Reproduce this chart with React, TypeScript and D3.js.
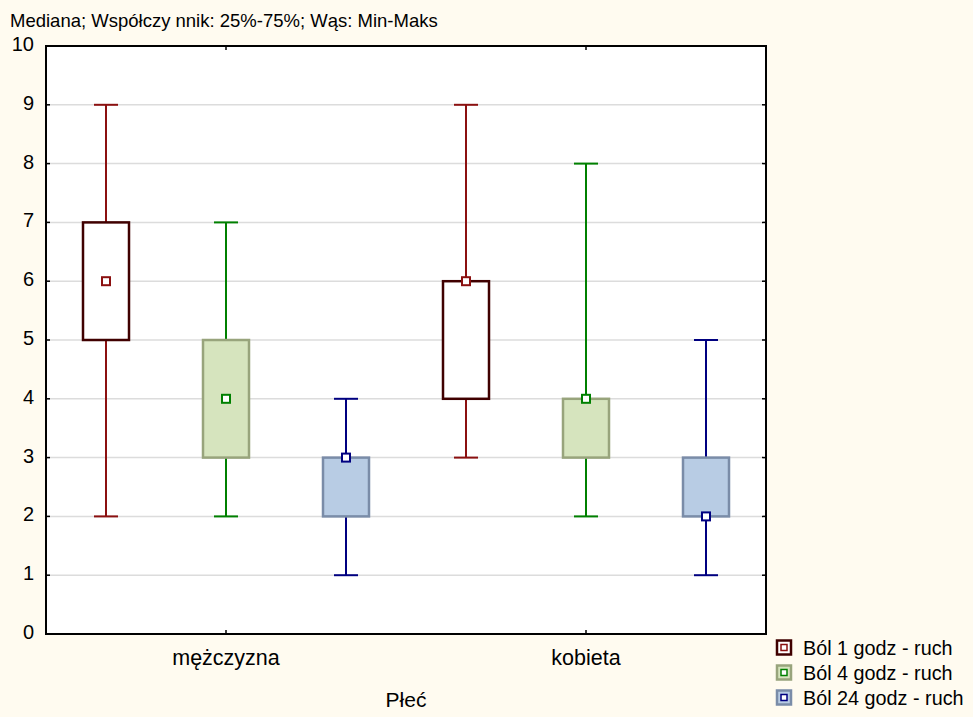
import React from 'react';
import * as d3 from 'd3';

const categories = ['mężczyzna', 'kobieta'];
const seriesNames = ['Ból 1 godz - ruch', 'Ból 4 godz - ruch', 'Ból 24 godz - ruch'];
// [min, q1, median, q3, max] per category
const bol1 = [[2, 5, 6, 7, 9], [3, 4, 6, 6, 9]];
const bol4 = [[2, 3, 4, 5, 7], [2, 3, 4, 4, 8]];
const bol24 = [[1, 2, 3, 3, 4], [1, 2, 2, 3, 5]];
const yTicks = [0, 1, 2, 3, 4, 5, 6, 7, 8, 9, 10];

const series = [bol1, bol4, bol24];
const styles = [
  { fill: '#ffffff', stroke: '#400000', whisker: '#8b1010' },
  { fill: '#d6e4be', stroke: '#98a47c', whisker: '#008000' },
  { fill: '#b8cce4', stroke: '#7a8ca8', whisker: '#000080' },
];

const W = 973, H = 717;
const left = 46, right = 766, top = 46, bottom = 634;
const font = 'Liberation Sans, Arial, sans-serif';

export default function App() {
  const x = d3.scaleBand().domain(categories).range([left, right]);
  const xs = d3.scaleBand().domain(seriesNames).range([0, x.bandwidth()]);
  const y = d3.scaleLinear().domain([0, 10]).range([bottom, top]);
  const boxW = 46, capW = 24, mk = 8;

  return (
    <svg width={W} height={H} style={{ display: 'block', position: 'absolute', left: 0, top: 0 }}>
      <rect width={W} height={H} fill="#fffbf0" />
      <rect x={left} y={top} width={right - left} height={bottom - top} fill="#ffffff" />
      {yTicks.slice(1, -1).map(t => (
        <line key={t} x1={left} x2={right} y1={y(t)} y2={y(t)} stroke="#dcdcdc" strokeWidth={1.5} />
      ))}
      {series.map((s, si) =>
        categories.map((c, ci) => {
          const [mn, q1, md, q3, mx] = s[ci];
          const cx = x(c)! + xs(seriesNames[si])! + xs.bandwidth() / 2;
          const st = styles[si];
          return (
            <g key={`${si}-${ci}`}>
              <line x1={cx} x2={cx} y1={y(mx)} y2={y(q3)} stroke={st.whisker} strokeWidth={2} />
              <line x1={cx} x2={cx} y1={y(q1)} y2={y(mn)} stroke={st.whisker} strokeWidth={2} />
              <line x1={cx - capW / 2} x2={cx + capW / 2} y1={y(mx)} y2={y(mx)} stroke={st.whisker} strokeWidth={2} />
              <line x1={cx - capW / 2} x2={cx + capW / 2} y1={y(mn)} y2={y(mn)} stroke={st.whisker} strokeWidth={2} />
              <rect x={cx - boxW / 2} y={y(q3)} width={boxW} height={y(q1) - y(q3)} fill={st.fill} stroke={st.stroke} strokeWidth={2.5} />
              <rect x={cx - mk / 2} y={y(md) - mk / 2} width={mk} height={mk} fill="#ffffff" stroke={st.whisker} strokeWidth={2} />
            </g>
          );
        })
      )}
      <rect x={left} y={top} width={right - left} height={bottom - top} fill="none" stroke="#000" strokeWidth={2} />
      {yTicks.map(t => (
        <g key={t}>
          <line x1={left} x2={left + 4} y1={y(t)} y2={y(t)} stroke="#000" strokeWidth={1.5} />
          <line x1={right - 4} x2={right} y1={y(t)} y2={y(t)} stroke="#000" strokeWidth={1.5} />
          <text x={34} y={y(t) + 5} textAnchor="end" fontFamily={font} fontSize={20} fill="#000">{t}</text>
        </g>
      ))}
      {categories.map(c => {
        const cx = x(c)! + x.bandwidth() / 2;
        return (
          <g key={c}>
            <line x1={cx} x2={cx} y1={bottom} y2={bottom - 4} stroke="#000" strokeWidth={1.5} />
            <line x1={cx} x2={cx} y1={top} y2={top + 4} stroke="#000" strokeWidth={1.5} />
            <text x={cx} y={665} textAnchor="middle" fontFamily={font} fontSize={21.5} fill="#000">{c}</text>
          </g>
        );
      })}
      <text x={(left + right) / 2} y={707} textAnchor="middle" fontFamily={font} fontSize={21} fill="#000">Płeć</text>
      <text x={10} y={27} fontFamily={font} fontSize={18.5} fill="#000">Mediana; Współczy nnik: 25%-75%; Wąs: Min-Maks</text>
      {seriesNames.map((n, i) => {
        const ly = 647.5 + i * 25;
        const st = styles[i];
        return (
          <g key={n}>
            <rect x={777} y={ly - 7} width={14} height={14} fill={st.fill} stroke={st.stroke} strokeWidth={2.5} />
            <rect x={781} y={ly - 3} width={6} height={6} fill="#ffffff" stroke={st.whisker} strokeWidth={1.5} />
            <text x={803} y={ly + 7.5} fontFamily={font} fontSize={19.8} fill="#000">{n}</text>
          </g>
        );
      })}
    </svg>
  );
}
